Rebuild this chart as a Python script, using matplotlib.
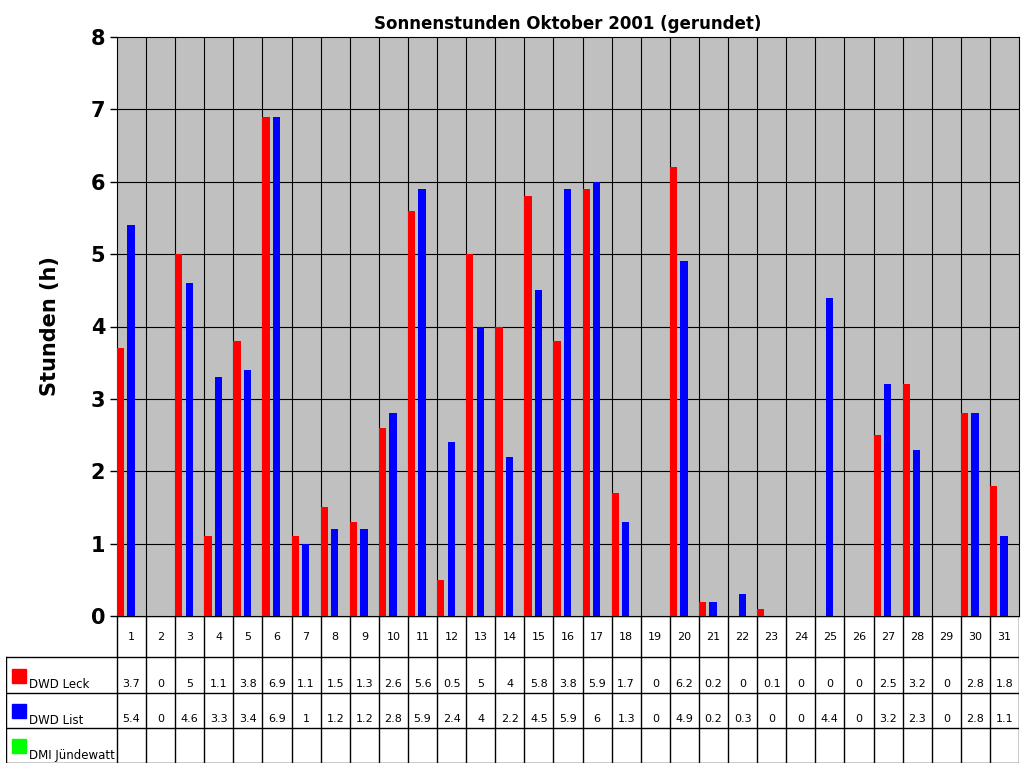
import numpy as np
import matplotlib.pyplot as plt
from matplotlib.patches import Rectangle

days = list(range(1, 32))
leck = [3.7, 0, 5, 1.1, 3.8, 6.9, 1.1, 1.5, 1.3, 2.6, 5.6, 0.5, 5, 4, 5.8, 3.8, 5.9, 1.7, 0, 6.2,
        0.2, 0, 0.1, 0, 0, 0, 2.5, 3.2, 0, 2.8, 1.8]
list_ = [5.4, 0, 4.6, 3.3, 3.4, 6.9, 1, 1.2, 1.2, 2.8, 5.9, 2.4, 4, 2.2, 4.5, 5.9, 6, 1.3, 0, 4.9,
         0.2, 0.3, 0, 0, 4.4, 0, 3.2, 2.3, 0, 2.8, 1.1]
series = [("DWD Leck", leck, "#FF0000"), ("DWD List", list_, "#0000FF"), ("DMI Jündewatt", None, "#00FF00")]

W, H = 1024, 768
fig = plt.figure(figsize=(W / 100, H / 100), dpi=100)

# main plot
ax = fig.add_axes([117 / W, (H - 616) / H, 902 / W, (616 - 37) / H])
ax.set_facecolor("#C0C0C0")
x = np.arange(len(days))
w = 0.25
ax.bar(x, leck, width=w, align="edge", color="#FF0000", zorder=3)
ax.bar(x + 0.36, list_, width=w, align="edge", color="#0000FF", zorder=3)
ax.set_xlim(0, len(days))
ax.set_ylim(0, 8)
ax.set_yticks(range(0, 9))
ax.set_yticklabels([str(i) for i in range(9)], fontsize=15, fontweight="bold")
ax.set_xticks([])
for i in range(1, len(days)):
    ax.axvline(i, color="black", lw=0.8, zorder=2)
for j in range(1, 8):
    ax.axhline(j, color="black", lw=0.8, zorder=2)
for s in ax.spines.values():
    s.set_color("black")
    s.set_linewidth(0.8)
ax.tick_params(axis="y", length=5, width=1)
ax.set_ylabel("Stunden (h)", fontsize=15, fontweight="bold", labelpad=22)
ax.set_title("Sonnenstunden Oktober 2001 (gerundet)", fontsize=12, fontweight="bold", pad=6)

# data table
tx0, tx1 = 6, 1019
ty0, ty1 = 616, 763
tab = fig.add_axes([tx0 / W, (H - ty1) / H, (tx1 - tx0) / W, (ty1 - ty0) / H])
labw = (117 - tx0) / (902 / 31)
tab.set_xlim(-labw, 31)
tab.set_ylim(ty1, ty0)
tab.axis("off")
rows = [616, 657, 693, 728, 763]
lk = dict(color="black", lw=1)
for i in range(32):
    tab.plot([i, i], [616, 763], **lk)
tab.plot([-labw, -labw], [657, 763], **lk)
tab.plot([0, 31], [616, 616], **lk)
for r in rows[1:]:
    tab.plot([-labw, 31], [r, r], **lk)
for i, d in enumerate(days):
    tab.text(i + 0.5, 637, str(d), ha="center", va="center", fontsize=8)
for k, (name, vals, col) in enumerate(series):
    top, bot = rows[k + 1], rows[k + 2]
    tab.add_patch(Rectangle((-labw + 0.2, bot - 24), 0.5, 14, color=col))
    tab.text(-labw + 0.8, bot - 8, name, ha="left", va="center", fontsize=8.5)
    if vals is not None:
        for i, v in enumerate(vals):
            tab.text(i + 0.5, bot - 9, f"{v:g}", ha="center", va="center", fontsize=8)

fig.savefig("out.png", dpi=100)
